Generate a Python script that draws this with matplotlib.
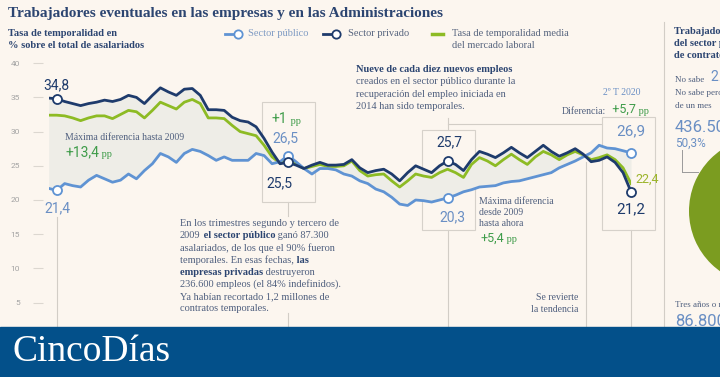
import matplotlib
matplotlib.use("Agg")
import matplotlib.pyplot as plt
from matplotlib.transforms import Affine2D
from matplotlib.patches import Rectangle

# ---------------- data (quarterly, 1T 2002 .. 2T 2020) ----------------
years = list(range(2002, 2021))
quarter_labels = [f"{q}T {y}" for y in years for q in (1, 2, 3, 4)][:74]

publico = [
    21.7, 21.4, 22.4, 22.1, 21.9, 22.9, 23.6, 23.1, 22.6, 22.9,
    23.8, 23.1, 24.3, 25.3, 26.8, 26.3, 25.5, 26.8, 27.4, 27.1,
    26.5, 25.8, 26.3, 25.8, 25.8, 25.8, 26.8, 26.5, 25.3, 25.6,
    26.5, 25.6, 24.6, 23.8, 24.6, 24.6, 24.4,
    23.8, 23.5, 22.8, 22.4, 21.6, 21.2, 20.4, 19.4, 19.2, 20.0, 19.9, 19.7, 20.0,
    20.3, 20.7, 21.2, 21.5, 21.9, 22.0, 22.1, 22.5, 22.7, 22.8,
    23.1, 23.4, 23.7, 24.0, 24.7, 25.2, 25.7, 26.3, 26.9, 28.0,
    27.6, 27.5, 27.2, 26.9,
]
privado = [
    34.9, 34.8, 34.4, 34.1, 33.8, 34.1, 34.3, 34.6, 34.4, 34.7,
    35.3, 35.0, 34.1, 35.3, 36.4, 35.8, 35.3, 36.2, 36.3, 35.3,
    33.2, 33.2, 33.1, 32.1, 31.6, 31.4, 30.7, 29.0, 27.0, 25.3,
    25.5, 25.1, 24.6, 25.1, 25.5, 25.1, 25.1,
    25.2, 25.9, 24.7, 24.0, 24.3, 24.5, 23.8, 22.8, 24.0, 25.0, 24.5, 24.0, 25.0,
    25.7, 25.2, 24.3, 25.9, 27.1, 26.7, 26.2, 26.9, 27.7, 26.9,
    26.2, 27.1, 28.0, 27.1, 26.4, 26.9, 27.5, 26.7, 25.6, 25.8,
    26.3, 25.5, 24.0, 21.2,
]
media = [
    32.4, 32.4, 32.3, 32.0, 31.6, 32.0, 32.3, 32.3, 31.9, 32.5,
    33.1, 32.9, 32.0, 33.1, 34.3, 33.8, 33.3, 34.3, 34.7, 34.1,
    32.0, 32.0, 31.9, 30.9, 30.0, 29.7, 29.4, 28.0, 26.3, 25.4,
    25.8, 25.3, 24.6, 24.9, 25.2, 24.9, 24.9,
    25.0, 25.7, 24.3, 23.5, 23.7, 23.8, 22.8, 21.9, 22.8, 23.8, 23.5, 23.3, 24.0,
    24.5, 24.0, 23.3, 25.2, 26.2, 25.7, 25.0, 25.9, 26.7, 25.9,
    25.2, 26.3, 27.1, 26.6, 25.9, 26.6, 27.1, 26.6, 25.9, 26.2,
    26.6, 25.9, 24.7, 22.4,
]
y_ticks = [5, 10, 15, 20, 25, 30, 35, 40]
highlight_idx = [1, 30, 50, 73]
pie_values = [50.3, 49.7]

# ---------------- style ----------------
BG = '#fcf6ef'
PUB = '#5f93d3'
PRIV = '#1e3b6c'
MEDIA = '#8dbb24'
FILL = '#eeede7'
NAVY = '#2c4571'
GRAYTXT = '#4f5f7e'
LBLUE = '#6a8fc4'
GREEN = '#3f9c4a'
LGRAY = '#d2cdc6'
BANNER = '#03508a'
PIE = '#7b9c20'
SERIF = 'Liberation Serif'
SANS = 'Roboto'

W, H, DPI = 720, 377, 100
fig = plt.figure(figsize=(W / DPI, H / DPI), dpi=DPI, facecolor=BG)
P = Affine2D().scale(1 / DPI, -1 / DPI).translate(0, H / DPI) + fig.dpi_scale_trans

X0, DX = 48.7, 7.977
n = len(publico)
x_right = X0 + DX * (n - 1)
PX20, PXU = 200.0, 6.84
Y40, Y0 = PX20 - 20 * PXU, PX20 + 20 * PXU
ax = fig.add_axes([X0 / W, 1 - Y0 / H, (x_right - X0) / W, (Y0 - Y40) / H])
ax.set_xlim(0, n - 1)
ax.set_ylim(0, 40)
ax.patch.set_alpha(0)
for s in ax.spines.values():
    s.set_visible(False)
ax.set_xticks([])
ax.set_yticks(y_ticks)
ax.spines['left'].set_position(('outward', 4.1))
ax.tick_params(axis='y', length=7.2, width=0.8, color='#dcd7d0', pad=9.4,
               labelsize=6, labelcolor='#a3a3a3')
for lab in ax.get_yticklabels():
    lab.set_family(SANS)


def V(ypix):
    return 20 + (PX20 - ypix) / PXU


def T(x, y, s, size, color, weight='normal', family=SERIF, ha='left', va='center', **kw):
    return ax.text(x, y, s, transform=P, fontsize=size, color=color, fontweight=weight,
                   family=family, ha=ha, va=va, clip_on=False, zorder=7, **kw)


def after(prev, s, size, color, weight='normal', family=SERIF):
    return ax.annotate(s, xy=(1, 0), xycoords=prev, va='bottom', ha='left', fontsize=size,
                       color=color, fontweight=weight, family=family, zorder=7,
                       annotation_clip=False)


def pline(xs, ys, color=LGRAY, lw=0.8, z=0.5):
    ax.plot(xs, ys, transform=P, color=color, lw=lw, zorder=z, clip_on=False)


def vline(i, y1, y2):
    ax.plot([i, i], [V(y1), V(y2)], color=LGRAY, lw=0.8, zorder=0.5, clip_on=False)


x = list(range(n))
ax.fill_between(x, publico, privado, color=FILL, lw=0, zorder=1)
ax.plot(x, media, color=MEDIA, lw=2.0, zorder=3, solid_joinstyle='round')
ax.plot(x, publico, color=PUB, lw=2.0, zorder=3.5, solid_joinstyle='round')
ax.plot(x, privado, color=PRIV, lw=2.0, zorder=4, solid_joinstyle='round')
for i in highlight_idx:
    ax.plot(i, publico[i], 'o', ms=6.5, mfc='white', mec=PUB, mew=1.3, zorder=6, clip_on=False)
    ax.plot(i, privado[i], 'o', ms=6.5, mfc='white', mec=PRIV, mew=1.3, zorder=6, clip_on=False)

# guide lines
ax.plot([1, 1], [privado[1], publico[1]], color='#b9b9c0', lw=0.8, zorder=0.8)
vline(1, 217, 330)
vline(30, 202, 216)
vline(30, 313, 330)
vline(50, 118, 130)
vline(50, 230, 330)
vline(73, 230, 330)
pline([X0 + 50 * DX, 602], [124, 124])
pline([586, 586], [162, 330])
pline([664, 664], [22, 330])
for (bx, by, bw, bh) in [(262, 102, 53, 100), (422, 130, 53, 100), (602, 117, 53, 113)]:
    ax.add_patch(Rectangle((bx, by), bw, bh, transform=P, fill=False, ec='#d6d1ca',
                           lw=0.8, zorder=0.6, clip_on=False))

# title & header
T(8, 13, "Trabajadores eventuales en las empresas y en las Administraciones", 11, NAVY, 'bold')
T(8, 34, "Tasa de temporalidad en", 7.5, NAVY, 'bold')
T(8, 46, "% sobre el total de asalariados", 7.5, NAVY, 'bold')

# legend
pline([225, 238], [34, 34], PUB, 2.0, 6)
ax.plot([238], [34], 'o', transform=P, ms=6, mfc='white', mec=PUB, mew=1.3, zorder=6, clip_on=False)
T(248, 34, "Sector público", 7.5, '#7f9bc3')
pline([323, 336], [34, 34], PRIV, 2.0, 6)
ax.plot([336], [34], 'o', transform=P, ms=6, mfc='white', mec=PRIV, mew=1.3, zorder=6, clip_on=False)
T(348, 34, "Sector privado", 7.5, '#56647e')
pline([432, 443], [34, 34], MEDIA, 2.5, 6)
T(452, 34, "Tasa de temporalidad media", 7.5, '#56647e')
T(452, 46, "del mercado laboral", 7.5, '#56647e')

# value labels
T(43, 85, "34,8", 10, PRIV, family=SANS)
T(44, 208, "21,4", 10, LBLUE, family=SANS)
T(65, 137.5, "Máxima diferencia hasta 2009", 7, GRAYTXT)
t = T(65, 152, "+13,4", 10, GREEN, family=SANS)
after(t, " pp", 7.5, GREEN)
t = T(272, 119, "+1", 10, GREEN, family=SANS)
after(t, " pp", 7.5, GREEN)
T(272, 138, "26,5", 10, LBLUE, family=SANS)
T(266, 183, "25,5", 10, PRIV, family=SANS)
T(449, 142.5, "25,7", 10, PRIV, family=SANS, ha='center')
T(452, 217, "20,3", 10, LBLUE, family=SANS, ha='center')
T(616, 131, "26,9", 11, LBLUE, family=SANS)
T(616, 209, "21,2", 11, PRIV, family=SANS)
T(635, 179, "22,4", 9, '#9db52c', family=SANS)
T(603, 92.5, "2º T 2020", 7, LBLUE)
t = T(562, 111, "Diferencia:", 7, GRAYTXT)
t = after(t, "  +5,7", 9, GREEN, family=SANS)
after(t, " pp", 7.5, GREEN)
T(479, 201, "Máxima diferencia", 7, GRAYTXT)
T(479, 212.5, "desde 2009", 7, GRAYTXT)
T(479, 224, "hasta ahora", 7, GRAYTXT)
t = T(480, 238, "+5,4", 9, GREEN, family=SANS)
after(t, " pp", 7.5, GREEN)
T(578, 298, "Se revierte", 7, GRAYTXT, ha='right')
T(578, 310, "la tendencia", 7, GRAYTXT, ha='right')

# note blocks
T(356, 70, "Nueve de cada diez nuevos empleos", 7.5, NAVY, 'bold')
T(356, 82, "creados en el sector público durante la", 7.5, GRAYTXT)
T(356, 94.5, "recuperación del empleo iniciada en", 7.5, GRAYTXT)
T(356, 106.5, "2014 han sido temporales.", 7.5, GRAYTXT)

ly = [223.5, 235.7, 247.9, 260.1, 272.3, 284.5, 296.7, 308.9]
T(180, ly[0], "En los trimestres segundo y tercero de", 7.5, GRAYTXT)
t = T(180, ly[1], "2009", 7.5, GRAYTXT)
t = after(t, " el sector público", 7.5, NAVY, 'bold')
after(t, " ganó 87.300", 7.5, GRAYTXT)
T(180, ly[2], "asalariados, de los que el 90% fueron", 7.5, GRAYTXT)
t = T(180, ly[3], "temporales. En esas fechas,", 7.5, GRAYTXT)
after(t, " las", 7.5, NAVY, 'bold')
t = T(180, ly[4], "empresas privadas", 7.5, NAVY, 'bold')
after(t, " destruyeron", 7.5, GRAYTXT)
T(180, ly[5], "236.600 empleos (el 84% indefinidos).", 7.5, GRAYTXT)
T(180, ly[6], "Ya habían recortado 1,2 millones de", 7.5, GRAYTXT)
T(180, ly[7], "contratos temporales.", 7.5, GRAYTXT)

# right panel
T(674, 32, "Trabajadores temporales", 7.5, NAVY, 'bold')
T(674, 44, "del sector público", 7.5, NAVY, 'bold')
T(674, 56, "de contrato", 7.5, NAVY, 'bold')
t = T(675, 80, "No sabe", 6.5, GRAYTXT)
after(t, "  2.400", 10, LBLUE, family=SANS)
T(675, 93, "No sabe pero más", 6.5, GRAYTXT)
T(675, 106, "de un mes", 6.5, GRAYTXT)
T(675, 128, "436.500", 12, LBLUE, family=SANS)
T(675, 143, "50,3%", 8.5, LBLUE, family=SANS)
T(675, 305, "Tres años o más", 6.5, GRAYTXT)
T(675, 322, "86.800", 12, LBLUE, family=SANS)
pline([682, 682], [150, 172], '#9a9a9a', 0.7, 5)
pline([682, 698], [172, 172], '#9a9a9a', 0.7, 5)

pax = fig.add_axes([(763 - 74) / W, 1 - (211 + 74) / H, 148 / W, 148 / H])
pax.pie(pie_values, colors=[PIE, '#a7c05a'], startangle=90, counterclock=True,
        radius=1, wedgeprops=dict(lw=0))
pax.set_xlim(-1, 1)
pax.set_ylim(-1, 1)
pax.axis('off')

# banner
fig.add_artist(Rectangle((0, 0), 1, 50 / H, transform=fig.transFigure,
                         color=BANNER, zorder=10))
fig.text(12 / W, 1 - 352 / H, "CincoDías", color='white', fontsize=27, family=SERIF,
         va='center', ha='left', zorder=11)

fig.savefig("out.png", dpi=DPI, facecolor=BG)
